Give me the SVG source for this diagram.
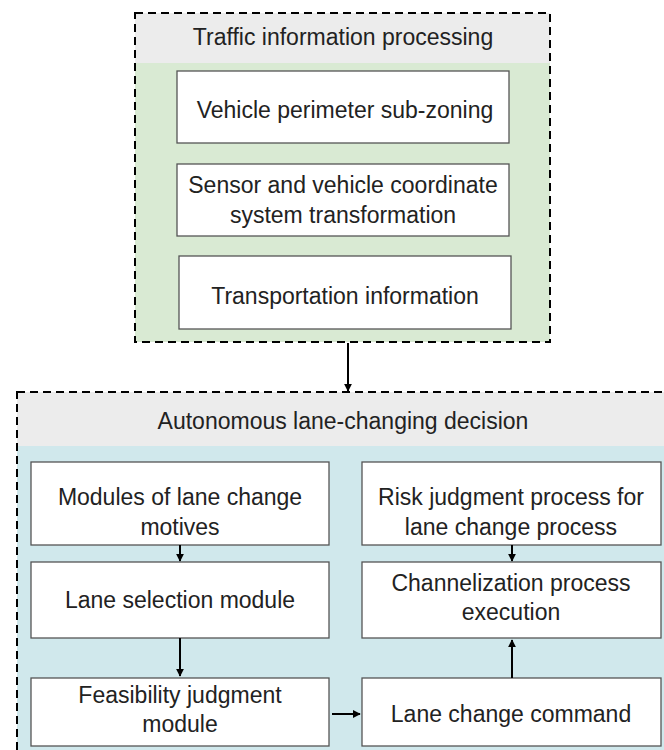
<svg xmlns="http://www.w3.org/2000/svg" width="664" height="750" viewBox="0 0 664 750">
  <style>
    .lbl { font-family: "Liberation Sans", Arial, sans-serif; font-size: 23px; fill: #222; text-anchor: middle; }
    .box { fill: #ffffff; stroke: #555; stroke-width: 1.3; }
    .frame { fill: none; stroke: #000; stroke-width: 2; stroke-dasharray: 8 5; }
    .head { fill: #ececec; }
    .wire { stroke: #000; stroke-width: 2; fill: none; marker-end: url(#tip); }
  </style>
  <defs>
    <marker id="tip" viewBox="0 0 10 10" refX="9" refY="5" markerWidth="4" markerHeight="4.5" orient="auto" markerUnits="strokeWidth">
      <path d="M0,0 L10,5 L0,10 z" fill="#000"/>
    </marker>
  </defs>
  <rect width="664" height="750" fill="#ffffff"/>

  <!-- upper stage: traffic information processing -->
  <g id="traffic-processing">
    <rect x="135" y="13" width="415" height="329" fill="#d9ead3"/>
    <rect class="head" x="135" y="13" width="415" height="50"/>
    <rect class="frame" x="135" y="13" width="415" height="329"/>
    <text class="lbl" x="343" y="45">Traffic information processing</text>
  </g>
  <g id="perimeter-subzoning">
    <rect class="box" x="177" y="71" width="332" height="72"/>
    <text class="lbl" x="345" y="118">Vehicle perimeter sub-zoning</text>
  </g>
  <g id="coordinate-transform">
    <rect class="box" x="177" y="164" width="332" height="72"/>
    <text class="lbl" x="343" y="193">Sensor and vehicle coordinate</text>
    <text class="lbl" x="343" y="223">system transformation</text>
  </g>
  <g id="transport-info">
    <rect class="box" x="179" y="256" width="332" height="73"/>
    <text class="lbl" x="345" y="304">Transportation information</text>
  </g>

  <!-- lower stage: autonomous lane-changing decision -->
  <g id="lane-change-decision">
    <rect x="17" y="392" width="670" height="380" fill="#d0e8ec"/>
    <rect class="head" x="17" y="392" width="670" height="54"/>
    <rect class="frame" x="17" y="392" width="670" height="380"/>
    <text class="lbl" x="343" y="429">Autonomous lane-changing decision</text>
  </g>
  <g id="motive-modules">
    <rect class="box" x="31" y="462" width="298" height="83"/>
    <text class="lbl" x="180" y="505">Modules of lane change</text>
    <text class="lbl" x="180" y="535">motives</text>
  </g>
  <g id="lane-selection">
    <rect class="box" x="31" y="562" width="298" height="76"/>
    <text class="lbl" x="180" y="608">Lane selection module</text>
  </g>
  <g id="feasibility">
    <rect class="box" x="31" y="678" width="298" height="68"/>
    <text class="lbl" x="180" y="703">Feasibility judgment</text>
    <text class="lbl" x="180" y="732">module</text>
  </g>
  <g id="risk-judgment">
    <rect class="box" x="362" y="462" width="299" height="83"/>
    <text class="lbl" x="511" y="505">Risk judgment process for</text>
    <text class="lbl" x="511" y="535">lane change process</text>
  </g>
  <g id="channelization">
    <rect class="box" x="362" y="562" width="299" height="76"/>
    <text class="lbl" x="511" y="591">Channelization process</text>
    <text class="lbl" x="511" y="620">execution</text>
  </g>
  <g id="lane-change-command">
    <rect class="box" x="362" y="678" width="299" height="68"/>
    <text class="lbl" x="511" y="722">Lane change command</text>
  </g>

  <g id="connectors">
    <line class="wire" x1="348" y1="343" x2="348" y2="391"/>
    <line class="wire" x1="180" y1="545" x2="180" y2="561"/>
    <line class="wire" x1="180" y1="638" x2="180" y2="676"/>
    <line class="wire" x1="332" y1="714" x2="360" y2="714"/>
    <line class="wire" x1="512" y1="678" x2="512" y2="640"/>
    <line class="wire" x1="512" y1="545" x2="512" y2="561"/>
  </g>
</svg>
